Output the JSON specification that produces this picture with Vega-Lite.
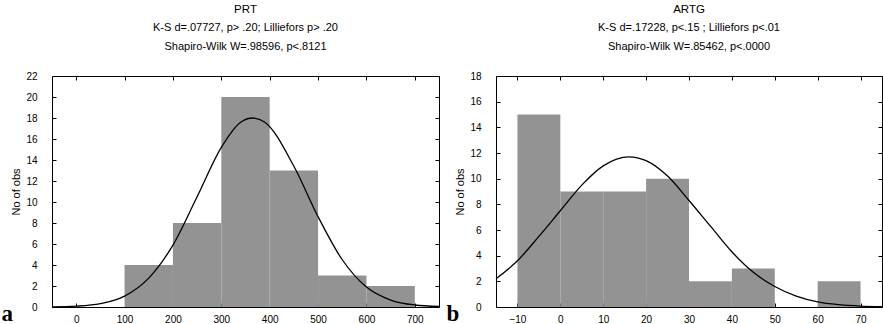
{
  "$schema": "https://vega.github.io/schema/vega-lite/v6.json",
  "padding": {"left": 0, "top": 3, "right": 0, "bottom": 0},
  "background": "white",
  "spacing": 2,
  "datasets": {
    "prt_bins": [
      {"lo": 100, "hi": 200, "n": 4},
      {"lo": 200, "hi": 300, "n": 8},
      {"lo": 300, "hi": 400, "n": 20},
      {"lo": 400, "hi": 500, "n": 13},
      {"lo": 500, "hi": 600, "n": 3},
      {"lo": 600, "hi": 700, "n": 2}
    ],
    "prt_curve": [
      {"v": -50, "n": 0.01}, {"v": 0, "n": 0.08}, {"v": 50, "n": 0.32}, {"v": 100, "n": 1.04},
      {"v": 150, "n": 2.75}, {"v": 200, "n": 5.9}, {"v": 250, "n": 10.5}, {"v": 300, "n": 15.2},
      {"v": 340, "n": 17.6}, {"v": 365, "n": 18.0}, {"v": 390, "n": 17.6}, {"v": 450, "n": 13.4},
      {"v": 500, "n": 8.6}, {"v": 550, "n": 4.5}, {"v": 600, "n": 1.9}, {"v": 650, "n": 0.66},
      {"v": 700, "n": 0.19}, {"v": 750, "n": 0.05}
    ],
    "artg_bins": [
      {"lo": -10, "hi": 0, "n": 15},
      {"lo": 0, "hi": 10, "n": 9},
      {"lo": 10, "hi": 20, "n": 9},
      {"lo": 20, "hi": 30, "n": 10},
      {"lo": 30, "hi": 40, "n": 2},
      {"lo": 40, "hi": 50, "n": 3},
      {"lo": 60, "hi": 70, "n": 2}
    ],
    "artg_curve": [
      {"v": -15, "n": 2.2}, {"v": -10, "n": 3.6}, {"v": -5, "n": 5.5}, {"v": 0, "n": 7.5},
      {"v": 5, "n": 9.5}, {"v": 10, "n": 11.0}, {"v": 16, "n": 11.7}, {"v": 20, "n": 11.4},
      {"v": 25, "n": 10.2}, {"v": 30, "n": 8.3}, {"v": 35, "n": 6.3}, {"v": 40, "n": 4.3},
      {"v": 45, "n": 2.7}, {"v": 50, "n": 1.6}, {"v": 55, "n": 0.85}, {"v": 60, "n": 0.4},
      {"v": 65, "n": 0.18}, {"v": 70, "n": 0.07}, {"v": 75, "n": 0.03}
    ]
  },
  "hconcat": [
    {
      "width": 387,
      "height": 231,
      "title": {
        "text": "PRT",
        "subtitle": ["K-S d=.07727, p> .20; Lilliefors p> .20", "Shapiro-Wilk W=.98596, p<.8121"]
      },
      "layer": [
        {
          "data": {"name": "prt_bins"},
          "mark": {"type": "rect", "fill": "#939393"},
          "encoding": {
            "x": {
              "field": "lo", "type": "quantitative",
              "scale": {"domain": [-50, 750], "nice": false, "zero": false},
              "axis": {
                "values": [0, 100, 200, 300, 400, 500, 600, 700],
                "title": "a", "titleFont": "Liberation Serif", "titleFontWeight": "bold",
                "titleFontSize": 23, "titleX": -51, "titleY": 13, "titleAlign": "left",
                "titleBaseline": "alphabetic"
              }
            },
            "x2": {"field": "hi"},
            "y": {
              "field": "n", "type": "quantitative",
              "scale": {"domain": [0, 22], "nice": false},
              "axis": {"values": [0, 2, 4, 6, 8, 10, 12, 14, 16, 18, 20, 22], "title": "No of obs", "titlePadding": 4}
            },
            "y2": {"datum": 0}
          }
        },
        {
          "data": {"name": "prt_curve"},
          "mark": {"type": "line", "color": "black", "strokeWidth": 1.3, "interpolate": "monotone"},
          "encoding": {
            "x": {
              "field": "v", "type": "quantitative",
              "axis": {"orient": "top", "labels": false, "title": null, "values": [0, 100, 200, 300, 400, 500, 600, 700]}
            },
            "y": {
              "field": "n", "type": "quantitative",
              "axis": {"orient": "right", "labels": false, "title": null, "values": [0, 2, 4, 6, 8, 10, 12, 14, 16, 18, 20, 22]}
            }
          }
        }
      ],
      "resolve": {"axis": {"x": "independent", "y": "independent"}}
    },
    {
      "width": 386,
      "height": 231,
      "title": {
        "text": "ARTG",
        "subtitle": ["K-S d=.17228, p<.15 ; Lilliefors p<.01", "Shapiro-Wilk W=.85462, p<.0000"]
      },
      "layer": [
        {
          "data": {"name": "artg_bins"},
          "mark": {"type": "rect", "fill": "#939393"},
          "encoding": {
            "x": {
              "field": "lo", "type": "quantitative",
              "scale": {"domain": [-15, 75], "nice": false, "zero": false},
              "axis": {
                "values": [-10, 0, 10, 20, 30, 40, 50, 60, 70],
                "title": "b", "titleFont": "Liberation Serif", "titleFontWeight": "bold",
                "titleFontSize": 23, "titleX": -50, "titleY": 13, "titleAlign": "left",
                "titleBaseline": "alphabetic"
              }
            },
            "x2": {"field": "hi"},
            "y": {
              "field": "n", "type": "quantitative",
              "scale": {"domain": [0, 18], "nice": false},
              "axis": {"values": [0, 2, 4, 6, 8, 10, 12, 14, 16, 18], "title": "No of obs", "titlePadding": 4}
            },
            "y2": {"datum": 0}
          }
        },
        {
          "data": {"name": "artg_curve"},
          "mark": {"type": "line", "color": "black", "strokeWidth": 1.3, "interpolate": "monotone"},
          "encoding": {
            "x": {
              "field": "v", "type": "quantitative",
              "axis": {"orient": "top", "labels": false, "title": null, "values": [-10, 0, 10, 20, 30, 40, 50, 60, 70]}
            },
            "y": {
              "field": "n", "type": "quantitative",
              "axis": {"orient": "right", "labels": false, "title": null, "values": [0, 2, 4, 6, 8, 10, 12, 14, 16, 18]}
            }
          }
        }
      ],
      "resolve": {"axis": {"x": "independent", "y": "independent"}}
    }
  ],
  "config": {
    "view": {"stroke": "black", "strokeWidth": 1},
    "axis": {
      "grid": false,
      "domain": false,
      "ticks": true,
      "tickColor": "black",
      "tickSize": -4,
      "labelFont": "Liberation Sans",
      "labelFontSize": 10,
      "labelColor": "black",
      "titleFont": "Liberation Sans",
      "titleFontSize": 11,
      "titleFontWeight": "normal",
      "titleColor": "black"
    },
    "axisY": {"labelPadding": 19},
    "axisX": {"labelPadding": 11},
    "title": {
      "font": "Liberation Sans",
      "fontSize": 11.5,
      "fontWeight": "normal",
      "color": "black",
      "subtitleFont": "Liberation Sans",
      "subtitleFontSize": 11,
      "subtitleColor": "black",
      "subtitleLineHeight": 19,
      "subtitlePadding": 7,
      "offset": 19,
      "anchor": "middle"
    }
  }
}
